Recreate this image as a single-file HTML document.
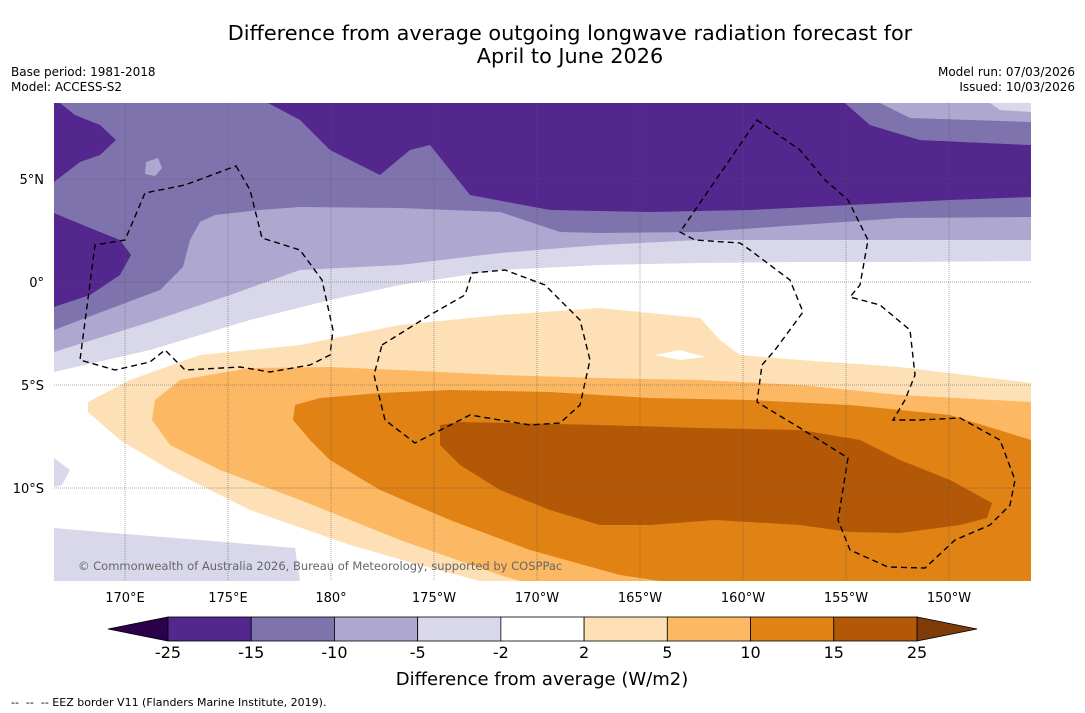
<!DOCTYPE html>
<html><head><meta charset="utf-8"><style>
body{margin:0;background:#fff;font-family:"DejaVu Sans","Liberation Sans",sans-serif;}
#wrap{position:relative;width:1085px;height:713px;overflow:hidden;}
.t{position:absolute;white-space:nowrap;color:#000;}
svg text{font-family:"DejaVu Sans","Liberation Sans",sans-serif;}
</style></head><body>
<div id="wrap">
<div class="t" style="left:170px;width:800px;top:22px;text-align:center;font-size:20.8px;line-height:23px;">Difference from average outgoing longwave radiation forecast for<br>April to June 2026</div>
<div class="t" style="left:11px;top:65px;font-size:12px;line-height:15px;">Base period: 1981-2018<br>Model: ACCESS-S2</div>
<div class="t" style="right:10px;top:65px;font-size:12px;line-height:15px;text-align:right;">Model run: 07/03/2026<br>Issued: 10/03/2026</div>
<svg id="svg" width="1085" height="713" style="position:absolute;left:0;top:0">
<defs><clipPath id="mc"><rect x="54" y="103" width="977" height="478"/></clipPath></defs>
<g clip-path="url(#mc)">
<rect x="54" y="103" width="977" height="478" fill="#fff"/>
<path fill="#d8d8ea" d="M54,103H1031V261L900,262L800,262L700,263L600,265L500,270L400,285L330,300L250,320L150,350L54,372Z"/>
<path fill="#aea8d1" d="M54,103H1031V240L800,240L700,240L600,245L500,253L400,265L300,270L230,295L150,322L54,352Z"/>
<path fill="#7f73ad" d="M54,103H1031V217L900,218L800,225L700,232L600,233L560,232L500,212L400,208L300,207L260,210L215,215L200,222L190,240L183,267L160,290L120,305L54,330Z"/>
<path fill="#54278f" d="M268,103L300,120L330,150L380,175L410,150L430,145L450,170L470,195L550,210L650,212L750,210L850,205L950,200L1031,197V145L920,140L870,125L845,103Z"/>
<path fill="#7f73ad" d="M845,103L870,125L920,140L1031,145V103Z"/>
<path fill="#aea8d1" d="M880,103L910,118L1031,122V103Z"/>
<path fill="#d8d8ea" d="M990,103L1000,110L1031,112V103Z"/>
<path fill="#54278f" d="M54,103L60,103L75,115L100,125L116,140L100,155L80,162L54,182Z"/>
<path fill="#54278f" d="M54,213L90,228L120,240L131,255L120,275L90,295L54,307Z"/>
<path fill="#aea8d1" d="M146,162L158,158L162,168L155,176L145,174Z"/>
<path fill="#d8d8ea" d="M54,528L100,532L200,540L260,545L295,548L300,581L54,581Z"/>
<path fill="#d8d8ea" d="M54,458L70,470L62,485L54,487Z"/>
<path fill="#fee0b6" d="M1031,383V581H480L420,565L350,545L250,510L170,470L120,440L88,412L88,402L130,380L200,355L300,345L400,325L500,315L600,308L700,318L720,340L740,355L800,360L900,367Z"/>
<path fill="#fff" d="M655,355L680,350L705,357L680,360Z"/>
<path fill="#fdb863" d="M1031,402L900,395L800,385L700,380L600,378L500,375L400,370L330,367L250,368L180,380L155,400L152,420L170,445L220,470L300,500L400,540L500,575L520,581H1031Z"/>
<path fill="#e08214" d="M1031,440L950,415L850,405L750,400L650,398L550,392L450,390L380,393L320,398L295,405L293,420L310,440L330,460L380,490L450,520L530,550L620,575L660,581H1031Z"/>
<path fill="#b35806" d="M440,425L460,422L600,425L700,428L800,430L860,440L900,460L950,480L992,503L987,518L960,525L900,533L850,532L800,525L715,520L650,525L600,525L550,510L500,490L460,465L440,445Z"/>
<g fill="none" stroke="#000" stroke-width="1.4" stroke-dasharray="6,4">
<path d="M236,166L250,190L262,238L300,250L322,280L333,330L330,355L310,365L270,372L240,367L185,370L165,350L150,362L115,370L80,360L95,245L125,240L145,193L185,185Z"/>
<path d="M382,345L430,315L465,295L472,273L505,270L545,285L580,320L590,360L580,405L560,423L530,425L470,415L415,443L385,420L374,375Z"/>
<path d="M757,120L800,150L825,180L848,200L868,240L860,285L850,297L880,305L910,330L915,375L905,400L893,420L920,420L960,418L1000,440L1015,480L1010,505L990,525L955,540L925,568L888,567L850,550L838,520L848,458L800,428L757,402L762,365L775,350L803,312L790,280L750,250L740,243L695,240L680,232Z"/>
</g>
<g id="grid" stroke="#555" stroke-width="0.5" stroke-dasharray="1,1"></g>
<text x="78" y="570" font-size="11.5" fill="#666">© Commonwealth of Australia 2026, Bureau of Meteorology, supported by COSPPac</text>
</g>
<g id="axes" font-size="13"></g>
<g id="cbar"></g>
<text x="542" y="685" font-size="18" text-anchor="middle">Difference from average (W/m2)</text>
<text x="11" y="706" font-size="11" xml:space="preserve" style="white-space:pre">--  --  -- EEZ border V11 (Flanders Marine Institute, 2019).</text>
</svg>
</div>
<script>
const lonTicks=[170,175,180,185,190,195,200,205,210];
const lonLabels=["170°E","175°E","180°","175°W","170°W","165°W","160°W","155°W","150°W"];
const latTicks=[5,0,-5,-10];
const latLabels=["5°N","0°","5°S","10°S"];
const levels=[-25,-15,-10,-5,-2,2,5,10,15,25];
const levelColors=["#54278f","#7f73ad","#aea8d1","#d8d8ea","#ffffff","#fee0b6","#fdb863","#e08214","#b35806"];
const extendColors=["#2d004b","#7f3b08"];
const NS="http://www.w3.org/2000/svg";
const xLon=l=>331+(l-180)*20.6;
const yLat=l=>282-l*20.6;
function mk(t,a,p){const e=document.createElementNS(NS,t);for(const k in a)e.setAttribute(k,a[k]);p.appendChild(e);return e;}
const grid=document.getElementById('grid'),axes=document.getElementById('axes');
lonTicks.forEach((l,i)=>{const x=xLon(l);
 const g=mk('line',{x1:x,x2:x,y1:103,y2:581},grid);
 
 
 const t=mk('text',{x:x,y:602,'text-anchor':'middle'},axes);t.textContent=lonLabels[i];
 
 });
latTicks.forEach((l,i)=>{const y=yLat(l);
 const g=mk('line',{x1:54,x2:1031,y1:y,y2:y},grid);
 
 
 const t=mk('text',{x:44,y:y+5,'text-anchor':'end'},axes);t.textContent=latLabels[i];
 
 });
const cb=document.getElementById('cbar');
const cx0=168,cx1=917,cy=617,ch=24,n=levelColors.length,w=(cx1-cx0)/n;
const lo=mk('polygon',{points:`${cx0},${cy} ${cx0},${cy+ch} 108,${cy+ch/2}`,fill:extendColors[0],stroke:'#000','stroke-width':0.8},cb);


const hi=mk('polygon',{points:`${cx1},${cy} ${cx1},${cy+ch} 977,${cy+ch/2}`,fill:extendColors[1],stroke:'#000','stroke-width':0.8},cb);


levelColors.forEach((c,i)=>{const r=mk('rect',{x:cx0+i*w,y:cy,width:w,height:ch,fill:c,stroke:'#000','stroke-width':0.8},cb);
 
 });
levels.forEach((v,i)=>{const t=mk('text',{x:cx0+i*w,y:658,'text-anchor':'middle','font-size':16},cb);t.textContent=v;
 
 });
</script>
</body></html>
